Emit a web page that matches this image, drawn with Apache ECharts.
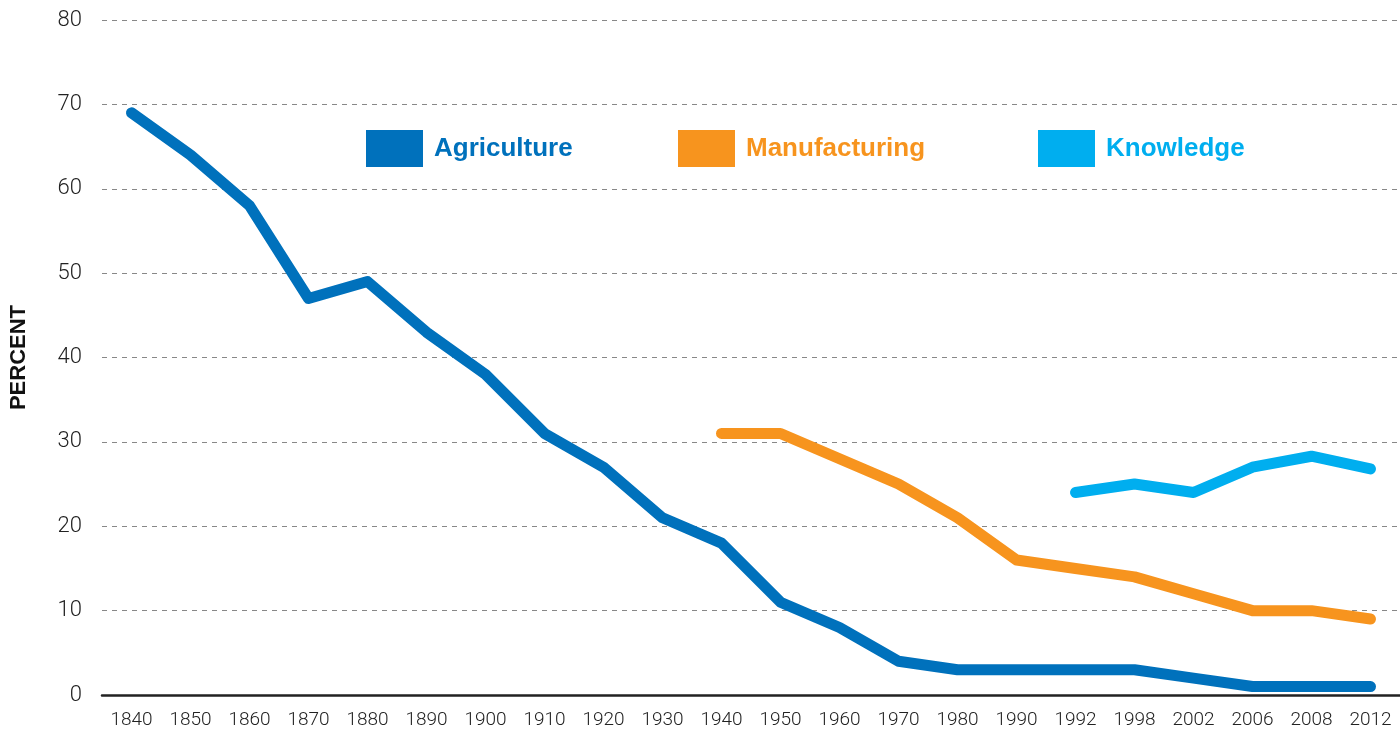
<!DOCTYPE html>
<html><head><meta charset="utf-8">
<script src="https://cdn.jsdelivr.net/npm/echarts@6/dist/echarts.min.js"></script>
<style>html,body{margin:0;padding:0;background:#fff}#c{width:1400px;height:736px}</style>
</head><body><div id="c"></div>
<script>
const years = ['1840','1850','1860','1870','1880','1890','1900','1910','1920','1930','1940','1950','1960','1970','1980','1990','1992','1998','2002','2006','2008','2012'];
const agriculture = [69,64,58,47,49,43,38,31,27,21,18,11,8,4,3,3,3,3,2,1,1,1];
const manufacturing = [null,null,null,null,null,null,null,null,null,null,31,31,28,25,21,16,15,14,12,10,10,9];
const knowledge = [null,null,null,null,null,null,null,null,null,null,null,null,null,null,null,null,24,25,24,27,28.3,26.8];
const yTicks = [0,10,20,30,40,50,60,70,80];

const cBlue = '#0071bc', cOrange = '#f7941e', cLight = '#00aeef';
const chart = echarts.init(document.getElementById('c'));
function leg(name, left, color){
  return {data:[name], left:left, top:130, icon:'rect', itemWidth:57, itemHeight:37, itemGap:0,
    selectedMode:false, padding:0,
    textStyle:{color:color, fontFamily:'Liberation Sans', fontWeight:'bold', fontSize:26, padding:[0,0,0,6]}};
}
chart.setOption({
  animation:false,
  legend:[leg('Agriculture',366,cBlue), leg('Manufacturing',678,cOrange), leg('Knowledge',1038,cLight)],
  grid:{left:102, right:0, top:20, bottom:41},
  xAxis:{type:'category', data:years, boundaryGap:true,
    axisLine:{lineStyle:{color:'#222', width:2.5}}, axisTick:{show:false},
    axisLabel:{color:'#222', fontFamily:'Roboto', fontWeight:300, fontSize:19, margin:16}},
  yAxis:{type:'value', min:0, max:80, interval:10,
    name:'PERCENT', nameLocation:'middle', nameGap:72, nameRotate:90,
    nameTextStyle:{color:'#111', fontFamily:'Liberation Sans', fontWeight:'bold', fontSize:22},
    axisLine:{show:false}, axisTick:{show:false},
    axisLabel:{color:'#222', fontFamily:'Roboto', fontWeight:300, fontSize:22, margin:20,
      formatter:v=>yTicks.includes(v)?String(v):''},
    splitLine:{lineStyle:{color:'#888', type:[5,5], width:1}}},
  series:[
    {name:'Agriculture', type:'line', data:agriculture, showSymbol:false, symbol:'none',
      lineStyle:{color:cBlue, width:11, cap:'round', join:'round'}, itemStyle:{color:cBlue}},
    {name:'Manufacturing', type:'line', data:manufacturing, showSymbol:false, symbol:'none',
      lineStyle:{color:cOrange, width:11, cap:'round', join:'round'}, itemStyle:{color:cOrange}},
    {name:'Knowledge', type:'line', data:knowledge, showSymbol:false, symbol:'none',
      lineStyle:{color:cLight, width:11, cap:'round', join:'round'}, itemStyle:{color:cLight}}
  ]
});
</script></body></html>
